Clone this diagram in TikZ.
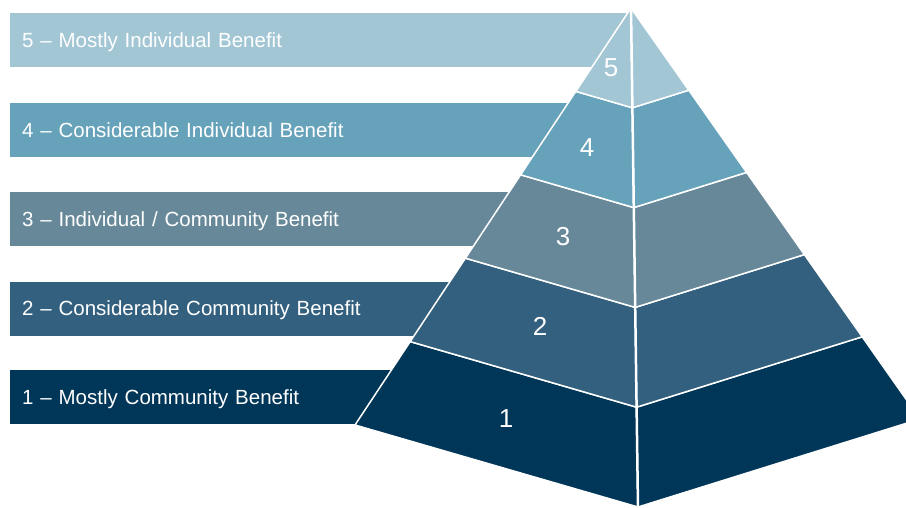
\documentclass[tikz,border=0pt]{standalone}
\usepackage{fontspec}
\setmainfont{Liberation Sans}
\usetikzlibrary{calc}

\definecolor{layerone}{HTML}{003658}
\definecolor{layertwo}{HTML}{33607E}
\definecolor{layerthree}{HTML}{668899}
\definecolor{layerfour}{HTML}{66A2B9}
\definecolor{layerfive}{HTML}{A3C6D5}

\tikzset{
    bar/.style={rectangle, anchor=west, text=white, align=left, text width=596pt, inner xsep=12pt, minimum height=54pt, text depth=0pt, font=\fontsize{20.5}{24}\selectfont},
    face/.style={draw=white, line width=1.5pt, line join=round},
    num/.style={text=white, font=\fontsize{26}{30}\selectfont}
}

\begin{document}
\begin{tikzpicture}[x=1pt, y=-1pt]
    \useasboundingbox (0,0) rectangle (906,508);
    \clip (0,0) rectangle (906,508);

    % Bars - one per level, behind the pyramid
    \node[bar,fill=layerfive] (bar5) at (10,40.5) {5 -- Mostly Individual Benefit};
    \node[bar,fill=layerfour] (bar4) at (10,130) {4 -- Considerable Individual Benefit};
    \node[bar,fill=layerthree] (bar3) at (10,219) {3 -- Individual / Community Benefit};
    \node[bar,fill=layertwo] (bar2) at (10,308.5) {2 -- Considerable Community Benefit};
    \node[bar,fill=layerone] (bar1) at (10,397) {1 -- Mostly Community Benefit};

    % Pyramid corners
    \coordinate (apex) at (631,8);
    \coordinate (left) at (355,425);
    \coordinate (front) at (638,507);
    \coordinate (right) at (920,419);

    % Layers - left and right faces
    \foreach \i/\col in {1/layerone,2/layertwo,3/layerthree,4/layerfour,5/layerfive}{
        \pgfmathsetmacro\lo{(6-\i)/5}
        \pgfmathsetmacro\hi{(5-\i)/5}
        \draw[face,fill=\col] ($(apex)!\hi!(left)$) -- ($(apex)!\lo!(left)$) -- ($(apex)!\lo!(front)$) -- ($(apex)!\hi!(front)$) -- cycle;
        \draw[face,fill=\col] ($(apex)!\hi!(front)$) -- ($(apex)!\lo!(front)$) -- ($(apex)!\lo!(right)$) -- ($(apex)!\hi!(right)$) -- cycle;
    }
    \draw[white,line width=2.5pt] (apex) -- (front);

    % Level numbers
    \node[num] (num5) at (611,68) {5};
    \node[num] (num4) at (587,148) {4};
    \node[num] (num3) at (563,237) {3};
    \node[num] (num2) at (540,326) {2};
    \node[num] (num1) at (506,419) {1};
\end{tikzpicture}
\end{document}
